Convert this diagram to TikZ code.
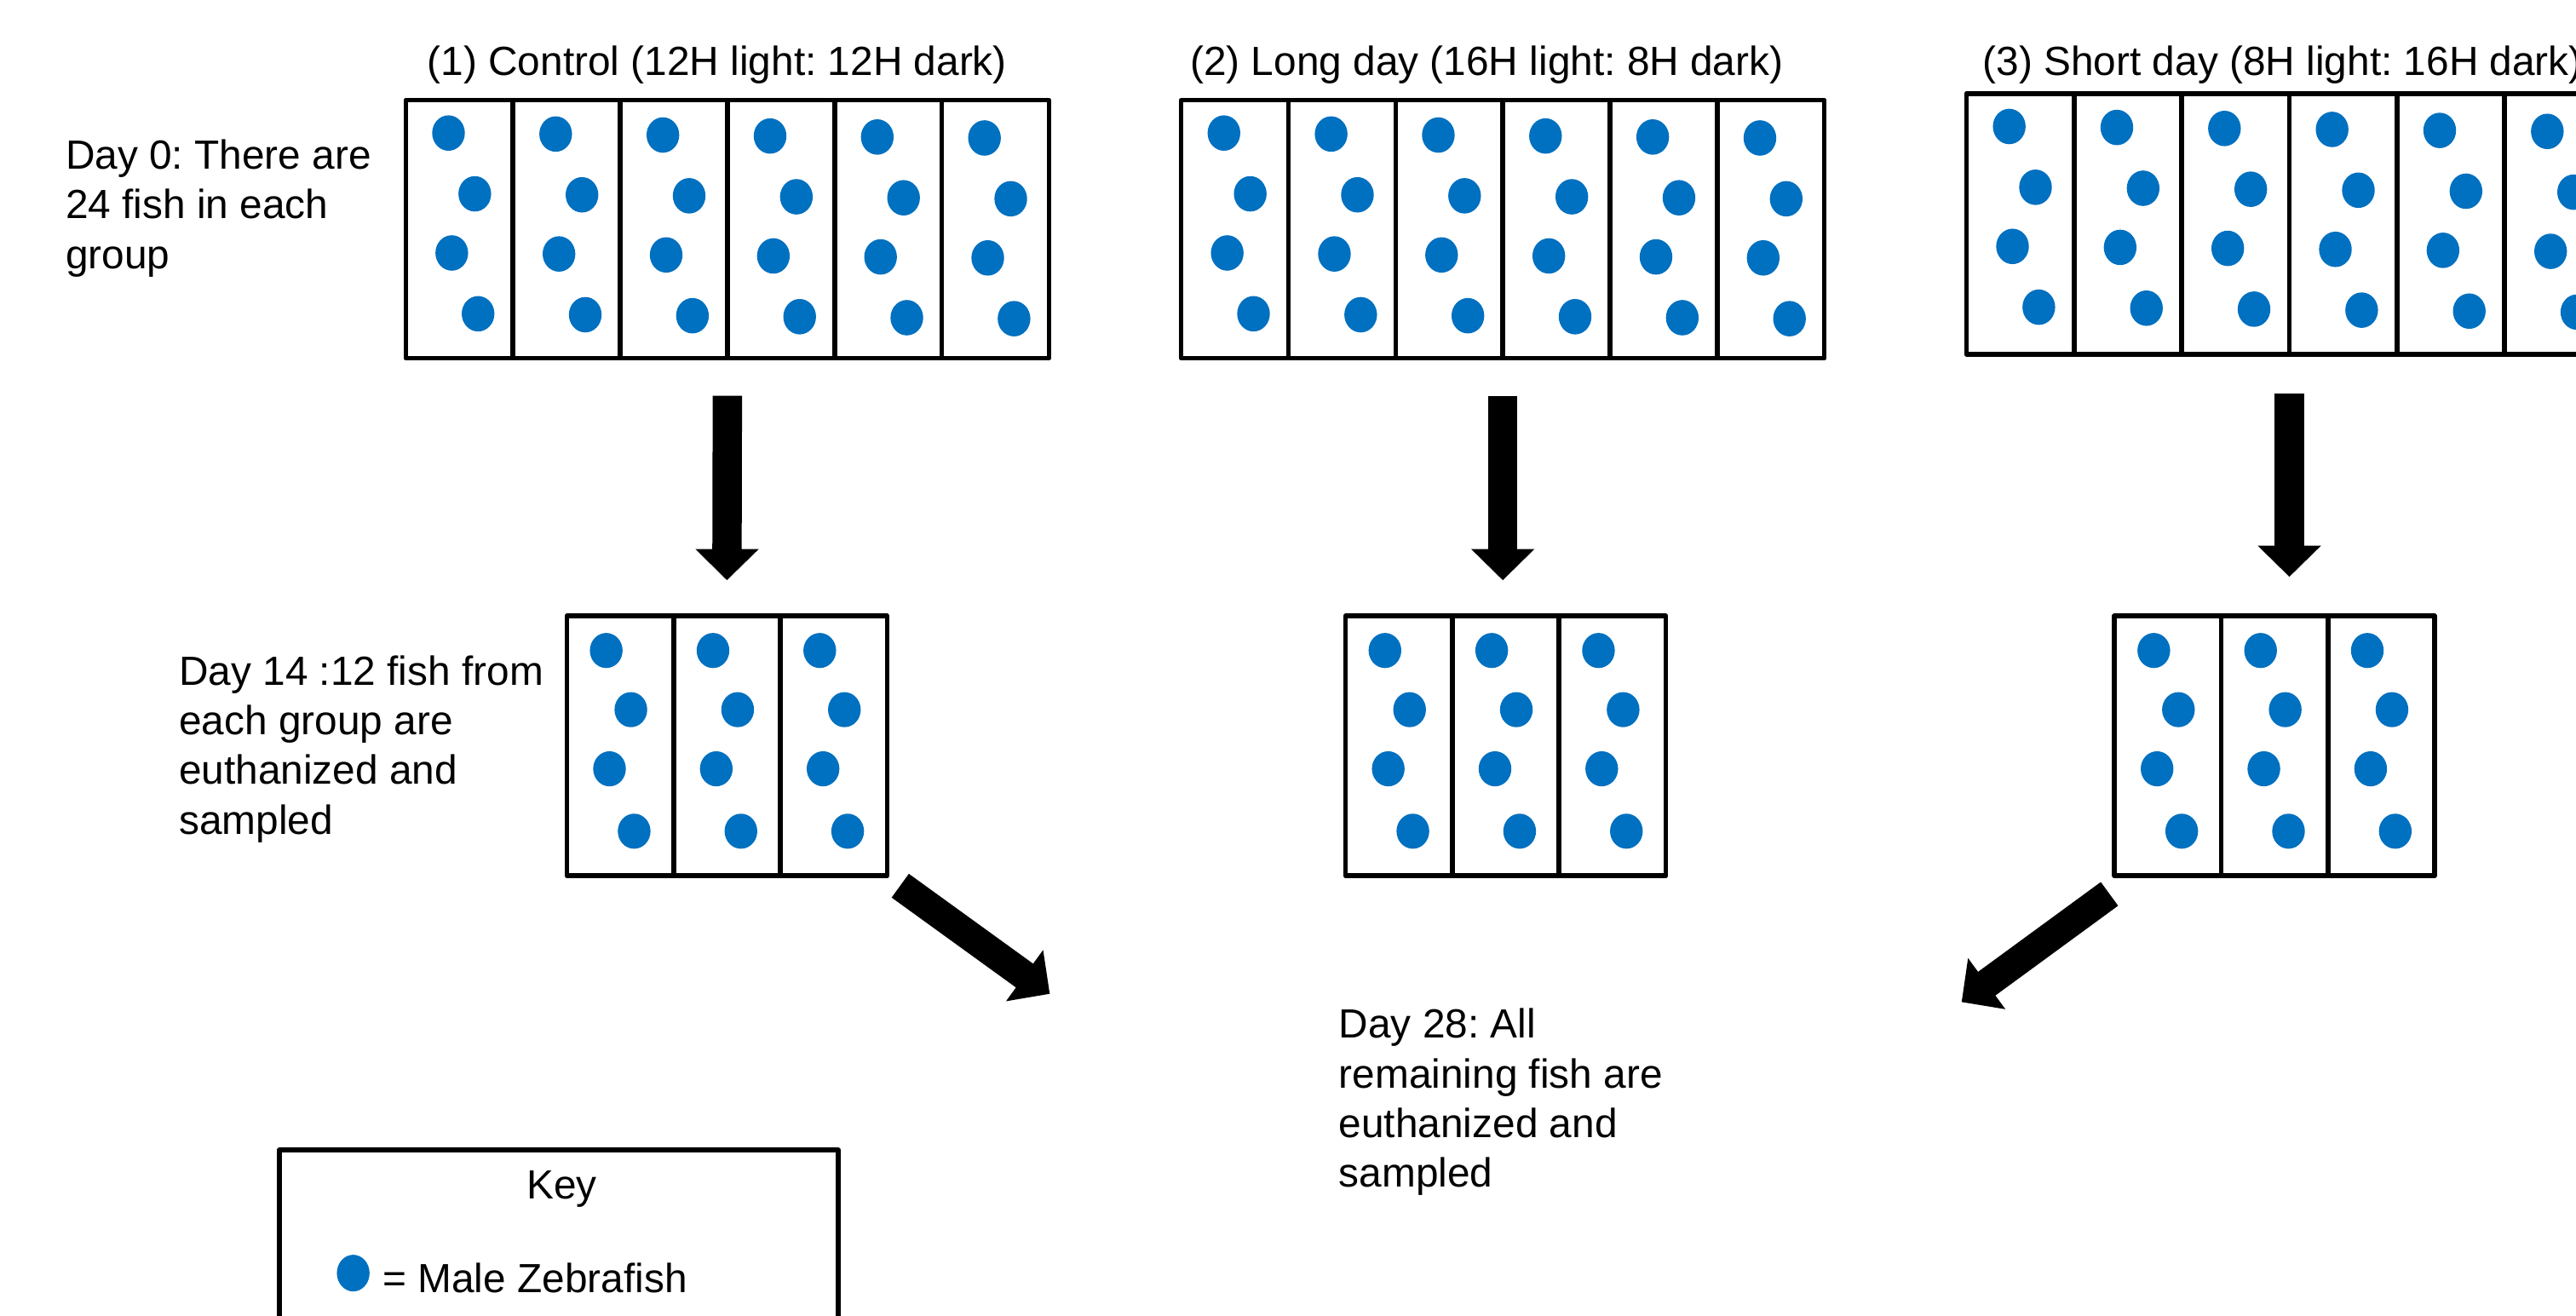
\documentclass[tikz,border=0pt]{standalone}
\usepackage{fontspec}
\setmainfont{Liberation Sans}
\frenchspacing
\usetikzlibrary{arrows.meta,calc}
\definecolor{fishblue}{HTML}{0070C0}
\tikzset{
  pics/bigfish/.style={code={
    \fill[fishblue] (26,20)  ellipse [x radius=1.92mm, y radius=2.08mm];
    \fill[fishblue] (42,57)  ellipse [x radius=1.92mm, y radius=2.08mm];
    \fill[fishblue] (28,93)  ellipse [x radius=1.92mm, y radius=2.08mm];
    \fill[fishblue] (44,130) ellipse [x radius=1.92mm, y radius=2.08mm];
  }},
  pics/smallfish/.style={code={
    \fill[fishblue] (24,21)  ellipse [x radius=1.92mm, y radius=2.06mm];
    \fill[fishblue] (39,57)  ellipse [x radius=1.92mm, y radius=2.06mm];
    \fill[fishblue] (26,93)  ellipse [x radius=1.92mm, y radius=2.06mm];
    \fill[fishblue] (41,131) ellipse [x radius=1.92mm, y radius=2.06mm];
  }},
}
\begin{document}
\begin{tikzpicture}[x=0.19286mm,y=-0.19286mm,
  every node/.style={font=\fontsize{13.6pt}{16.6pt}\selectfont, inner sep=0pt, outer sep=0pt},
  tank/.style={draw, line width=1.6pt, line join=round, anchor=north west},
  bigtank/.style={tank, minimum width=75.5mm, minimum height=30.3mm},
  smalltank/.style={tank, minimum width=37.6mm, minimum height=30.5mm},
  divider/.style={line width=1.6pt},
  caption/.style={align=left, anchor=north west},
  heading/.style={anchor=base},
  bigarrow/.style={line width=9.8pt, -{Triangle[width=20.5pt,length=10.4pt]}},
]
\useasboundingbox (0,0) rectangle (1568,801);

% headings of the three photoperiod groups
\node[heading] (t1) at (436.5,46) {(1) Control (12H light: 12H dark)};
\node[heading] (t2) at (905,46) {(2) Long day (16H light: 8H dark)};
\node[heading, anchor=base west] (t3) at (1207,46) {(3) Short day (8H light: 16H dark)};

% day 0 tanks, six per group
\node[bigtank] (box1) at (247,61) {};
\node[bigtank] (box2) at (719,61) {};
\node[bigtank, minimum width=75.8mm, minimum height=30.6mm] (box3) at (1197,57) {};

% day 14 tanks, three per group
\node[smalltank] (sb1) at (345,375) {};
\node[smalltank] (sb2) at (819,375) {};
\node[smalltank] (sb3) at (1287,375) {};

% tank dividers and fish
\foreach \b in {box1,box2,box3}{
  \foreach \k in {1,...,5}
    \draw[divider] ($(\b.north west)!\k/6!(\b.north east)$) -- ($(\b.south west)!\k/6!(\b.south east)$);
  \foreach \k in {0,...,5}
    \pic at ($(\b.north west)!\k/6!(\b.north east) + (0,0.6*\k)$) {bigfish};
}
\foreach \b in {sb1,sb2,sb3}{
  \foreach \k in {1,2}
    \draw[divider] ($(\b.north west)!\k/3!(\b.north east)$) -- ($(\b.south west)!\k/3!(\b.south east)$);
  \foreach \k in {0,1,2}
    \pic at ($(\b.north west)!\k/3!(\b.north east)$) {smallfish};
}

% text notes
\node[caption] (d0) at (40,85) {Day 0: There are\\24 fish in each\\group};
\node[caption] (d14) at (109,399) {Day 14 :12 fish from\\each group are\\euthanized and\\sampled};
\node[caption] (d28) at (815,614) {Day 28: All\\remaining fish are\\euthanized and\\sampled};

% block arrows
\draw[bigarrow] ([yshift=-4.4mm]box1.south) -- ([yshift=4.2mm]sb1.north);
\draw[bigarrow] ([yshift=-4.4mm]box2.south) -- ([yshift=4.2mm]box2.south |- sb2.north);
\draw[bigarrow] ([yshift=-4.6mm]box3.south) -- ([yshift=4.6mm]box3.south |- sb3.north);
\coordinate (tip1) at (639,605);
\coordinate (tip3) at (1194,610);
\draw[bigarrow] ($(sb1.south east)+(8,6)$) -- (tip1);
\draw[bigarrow] ($(sb3.south west)+(-3,11)$) -- (tip3);

% key
\node[tank, minimum width=65.6mm, minimum height=27mm] (key) at (170,700) {};
\node[heading] (keytitle) at (342,730) {Key};
\fill[fishblue] (215,775) ellipse [x radius=1.92mm, y radius=2.15mm];
\node[heading, anchor=base west] (keytext) at (233,787) {= Male Zebrafish};
\end{tikzpicture}
\end{document}
